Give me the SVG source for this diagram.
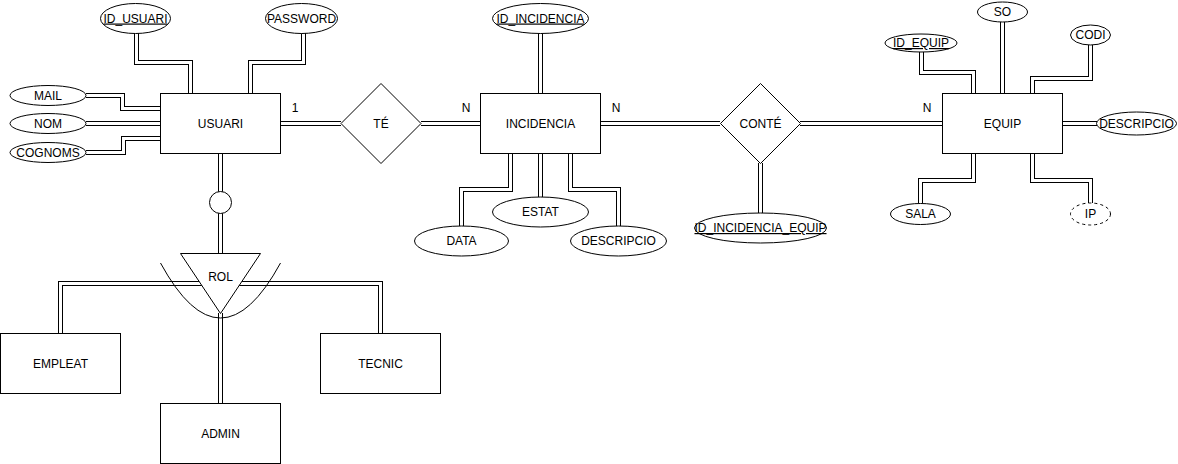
<svg xmlns="http://www.w3.org/2000/svg" width="1178" height="464" viewBox="0 0 1178 464">
<style>
.o{fill:none;stroke:#000;stroke-width:5}
.i{fill:none;stroke:#fff;stroke-width:3}
.s{fill:#fff;stroke:#000;stroke-width:1}
.d{fill:#fff;stroke:#000;stroke-width:1;stroke-dasharray:3 3}
.arc{fill:none;stroke:#000;stroke-width:1}
text{font-family:"Liberation Sans",Arial,sans-serif;font-size:12px;fill:#000;text-anchor:middle}
.u{text-decoration:underline}
</style>
<rect width="1178" height="464" fill="#fff"/>
<g id="connectors">
<g class="o">
<path d="M136.5 33V62.5H190.5V93"/>
<path d="M303.5 33V62.5H250.5V93"/>
<path d="M86 95.5H122.5V108.5H160"/>
<path d="M86 123.5H160"/>
<path d="M86 152.5H123.5V138.5H160"/>
<path d="M280 123.5H341"/>
<path d="M421 123.5H480"/>
<path d="M540.5 33V93"/>
<path d="M510.5 153V189.5H461.5V226"/>
<path d="M540.5 153V197"/>
<path d="M570.5 153V189.5H618.5V226"/>
<path d="M600 123.5H720"/>
<path d="M800 123.5H942"/>
<path d="M760.5 163V213"/>
<path d="M1002.5 22V93"/>
<path d="M921.5 52V72.5H973.5V93"/>
<path d="M1090.5 45V78.5H1032.5V93"/>
<path d="M1062 123.5H1097"/>
<path d="M973.5 153V180.5H920.5V203"/>
<path d="M1032.5 153V180.5H1090.5V203"/>
<path d="M220.5 153V253"/>
<path d="M220.5 283.5H60.5V333"/>
<path d="M220.5 283.5H380.5V333"/>
<path d="M220.5 313V403"/>
</g>
<g class="i">
<path d="M136.5 33V62.5H190.5V93"/>
<path d="M303.5 33V62.5H250.5V93"/>
<path d="M86 95.5H122.5V108.5H160"/>
<path d="M86 123.5H160"/>
<path d="M86 152.5H123.5V138.5H160"/>
<path d="M280 123.5H341"/>
<path d="M421 123.5H480"/>
<path d="M540.5 33V93"/>
<path d="M510.5 153V189.5H461.5V226"/>
<path d="M540.5 153V197"/>
<path d="M570.5 153V189.5H618.5V226"/>
<path d="M600 123.5H720"/>
<path d="M800 123.5H942"/>
<path d="M760.5 163V213"/>
<path d="M1002.5 22V93"/>
<path d="M921.5 52V72.5H973.5V93"/>
<path d="M1090.5 45V78.5H1032.5V93"/>
<path d="M1062 123.5H1097"/>
<path d="M973.5 153V180.5H920.5V203"/>
<path d="M1032.5 153V180.5H1090.5V203"/>
<path d="M220.5 153V253"/>
<path d="M220.5 283.5H60.5V333"/>
<path d="M220.5 283.5H380.5V333"/>
<path d="M220.5 313V403"/>
</g>
<text x="295" y="112">1</text>
<text x="466" y="112">N</text>
<text x="616" y="112">N</text>
<text x="927" y="112">N</text>
</g>
<g id="usuari"><rect class="s" x="160.5" y="93.5" width="120" height="60"/><text x="220.5" y="127.5">USUARI</text></g>
<g id="id_usuari"><ellipse class="s" cx="135.5" cy="18.5" rx="35" ry="15"/><text class="u" x="135.5" y="22.5">ID_USUARI</text></g>
<g id="password"><ellipse class="s" cx="301.5" cy="18.5" rx="36" ry="15"/><text x="301.5" y="22.5">PASSWORD</text></g>
<g id="mail"><ellipse class="s" cx="48" cy="95.5" rx="38" ry="10"/><text x="48" y="99.5">MAIL</text></g>
<g id="nom"><ellipse class="s" cx="48" cy="123.5" rx="38" ry="10"/><text x="48" y="127.5">NOM</text></g>
<g id="cognoms"><ellipse class="s" cx="48" cy="152.5" rx="38" ry="10"/><text x="48" y="156.5">COGNOMS</text></g>
<g id="te"><polygon class="s" points="381,83.5 421,123.5 381,163.5 341,123.5"/><text x="381" y="127.5">TÉ</text></g>
<g id="incidencia"><rect class="s" x="480.5" y="93.5" width="120" height="60"/><text x="540.5" y="127.5">INCIDENCIA</text></g>
<g id="id_incidencia"><ellipse class="s" cx="540.5" cy="18.5" rx="48" ry="15"/><text class="u" x="540.5" y="22.5">ID_INCIDENCIA</text></g>
<g id="data"><ellipse class="s" cx="461.5" cy="241" rx="47" ry="15"/><text x="461.5" y="245">DATA</text></g>
<g id="estat"><ellipse class="s" cx="540.5" cy="212" rx="48" ry="15"/><text x="540.5" y="216">ESTAT</text></g>
<g id="descripcio_inc"><ellipse class="s" cx="618.5" cy="241" rx="48" ry="15"/><text x="618.5" y="245">DESCRIPCIO</text></g>
<g id="conte"><polygon class="s" points="760.5,83.5 800.5,123.5 760.5,163.5 720.5,123.5"/><text x="760.5" y="127.5">CONTÉ</text></g>
<g id="id_incidencia_equip"><ellipse class="s" cx="760.5" cy="228" rx="66" ry="15"/><text class="u" x="760.5" y="232">ID_INCIDENCIA_EQUIP</text></g>
<g id="equip"><rect class="s" x="942.5" y="93.5" width="120" height="60"/><text x="1002.5" y="127.5">EQUIP</text></g>
<g id="so"><ellipse class="s" cx="1002.5" cy="12" rx="25" ry="10"/><text x="1002.5" y="16">SO</text></g>
<g id="id_equip"><ellipse class="s" cx="921" cy="43" rx="36" ry="9"/><text class="u" x="921" y="47">ID_EQUIP</text></g>
<g id="codi"><ellipse class="s" cx="1090.5" cy="35" rx="20" ry="10"/><text x="1090.5" y="39">CODI</text></g>
<g id="descripcio_equip"><ellipse class="s" cx="1136.5" cy="123.5" rx="40" ry="11.5"/><text x="1136.5" y="127.5">DESCRIPCIO</text></g>
<g id="sala"><ellipse class="s" cx="920.5" cy="214" rx="30" ry="10.5"/><text x="920.5" y="218">SALA</text></g>
<g id="ip"><ellipse class="d" cx="1090.5" cy="214" rx="20" ry="11"/><text x="1090.5" y="218">IP</text></g>
<g id="disjoint"><circle class="s" cx="220.5" cy="202.5" r="11"/></g>
<g id="rol"><polygon class="s" points="180.5,253.5 260.5,253.5 220.5,313.5"/><path class="arc" d="M160.5 263Q220.5 373 280.5 263"/><text x="220.5" y="281">ROL</text></g>
<g id="empleat"><rect class="s" x="0.5" y="333.5" width="120" height="60"/><text x="60.5" y="367.5">EMPLEAT</text></g>
<g id="tecnic"><rect class="s" x="320.5" y="333.5" width="120" height="60"/><text x="380.5" y="367.5">TECNIC</text></g>
<g id="admin"><rect class="s" x="160.5" y="403.5" width="120" height="60"/><text x="220.5" y="437.5">ADMIN</text></g>
</svg>
